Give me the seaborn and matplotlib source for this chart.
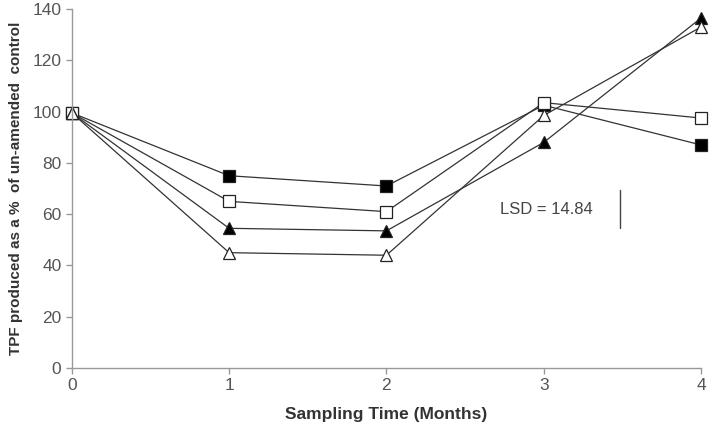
# third-party
import pandas as pd
import matplotlib.pyplot as plt
import seaborn as sns

months = [0, 1, 2, 3, 4]
filled_square = [99.5, 75, 71, 102.5, 87]
open_square = [99.5, 65, 61, 103.5, 97.5]
filled_triangle = [99.5, 54.5, 53.5, 88, 136.5]
open_triangle = [99.5, 45, 44, 98.5, 133]

lsd = 14.84

series = [
    ('filled_square', filled_square, 's', 'black'),
    ('open_square', open_square, 's', 'white'),
    ('filled_triangle', filled_triangle, '^', 'black'),
    ('open_triangle', open_triangle, '^', 'white'),
]

sns.set_style('white')
plt.rcParams['font.family'] = ['Liberation Sans', 'DejaVu Sans']

fig = plt.figure(figsize=(7.11, 4.3), dpi=100)
ax = fig.add_axes([0.101, 0.144, 0.885, 0.835])

for name, values, marker, face in series:
    df = pd.DataFrame({'month': months, 'value': values})
    sns.lineplot(
        data=df, x='month', y='value', ax=ax,
        color='#333333', linewidth=0.9,
        marker=marker, markersize=8 if marker == 's' else 8.5,
        markerfacecolor=face, markeredgecolor='#222222', markeredgewidth=0.9,
    )

# LSD bar
ax.plot([3.485, 3.485], [62 - lsd / 2, 62 + lsd / 2], color='#444444', linewidth=1)
ax.text(2.72, 62, 'LSD = 14.84', fontsize=12, color='#444444', va='center', ha='left')

ax.set_xlim(0, 4)
ax.set_ylim(0, 140)
ax.set_xticks(months)
ax.set_yticks(range(0, 141, 20))
ax.set_xlabel('Sampling Time (Months)', fontsize=12.5, fontweight='bold', color='#333333',
              labelpad=10)
ax.set_ylabel('TPF produced as a %  of un-amended  control', fontsize=11,
              fontweight='bold', color='#333333', labelpad=7)

for side in ['top', 'right']:
    ax.spines[side].set_visible(False)
for side in ['left', 'bottom']:
    ax.spines[side].set_color('#999999')
    ax.spines[side].set_linewidth(1)
ax.tick_params(axis='both', direction='out', length=4, width=1, color='#999999',
               labelsize=12.5, labelcolor='#555555', left=True, bottom=True)

for line in ax.lines:
    line.set_clip_on(False)

plt.savefig('out.png', dpi=100)
